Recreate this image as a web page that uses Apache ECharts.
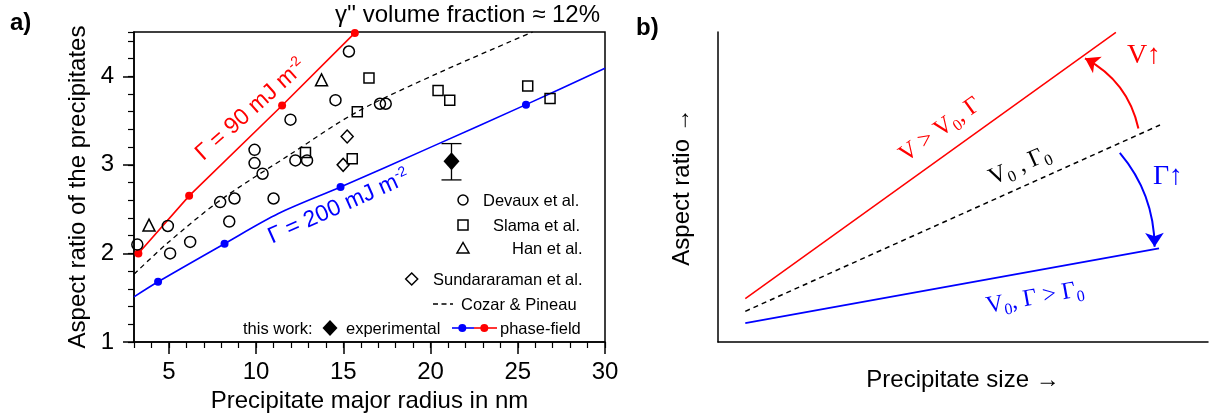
<!DOCTYPE html>
<html>
<head>
<meta charset="utf-8">
<script src="https://cdn.jsdelivr.net/npm/echarts@6/dist/echarts.min.js"></script>
<style>
  html, body { margin: 0; padding: 0; background: #fff; }
  #chart { width: 1210px; height: 418px; }
</style>
</head>
<body>
<div id="chart"></div>
<script>
// panel a: literature data, major radius (nm) vs aspect ratio
const devauxX = [3.19, 4.94, 5.07, 6.22, 7.94, 8.46, 8.76, 9.91, 9.91, 10.37, 11.0, 11.97, 12.25, 12.92, 14.55, 15.32, 17.1, 17.43]
const devauxY = [2.10, 2.31, 2.0, 2.13, 2.58, 2.36, 2.62, 3.17, 3.02, 2.90, 2.62, 3.51, 3.05, 3.05, 3.73, 4.28, 3.69, 3.69]
const slamaX = [12.83, 15.51, 15.8, 16.47, 20.43, 21.1, 25.57, 26.85]
const slamaY = [3.14, 3.07, 3.60, 3.98, 3.84, 3.73, 3.89, 3.75]
const hanX = [3.86, 13.75]
const hanY = [2.32, 3.96]
const sundX = [14.99, 15.22]
const sundY = [3.0, 3.32]
const cozarX = [3, 4.88, 7.94, 11.97, 15.8, 20.6, 25.85]
const cozarY = [1.765, 2.11, 2.6, 3.12, 3.6, 4.05, 4.5]
// this work
const expX = [21.2]
const expY = [3.04]
const expLow = [2.83]
const expHigh = [3.24]
const pf90X = [3.25, 6.16, 11.49, 15.66]
const pf90Y = [2.0, 2.65, 3.67, 4.49]
const pf200X = [4.38, 8.19, 14.84, 25.47]
const pf200Y = [1.68, 2.11, 2.75, 3.68]
const pf200CurveX = [3, 4.38, 8.19, 11.28, 14.84, 20.02, 25.47, 30]
const pf200CurveY = [1.51, 1.68, 2.11, 2.45, 2.75, 3.20, 3.68, 4.09]
const xMajorTicks = [5, 10, 15, 20, 25, 30]
const yMajorTicks = [1, 2, 3, 4]

// panel b: schematic, both axes 0..100 arbitrary units
const bRedLine = [[5.57, 14.0], [81.2, 99.9]]
const bRefLine = [[5.57, 9.9], [90.2, 70.0]]
const bBlueLine = [[5.57, 6.1], [90.0, 30.2]]
const bRedArrow = [[85.8, 68.9], [74.9, 91.5]]
const bBlueArrow = [[82.0, 61.0], [89.1, 30.7]]

const SANS = '"Liberation Sans", Arial, sans-serif'
const SERIF = '"Liberation Serif", "Times New Roman", serif'
const RED = '#ff0000'
const BLUE = '#0000ff'

const zip = (xs, ys) => xs.map((x, i) => [x, ys[i]])

const chart = echarts.init(document.getElementById('chart'))

const openSymbol = (name, symbol, size, xs, ys) => ({
  name: name,
  type: 'scatter',
  xAxisIndex: 0,
  yAxisIndex: 0,
  symbol: symbol,
  symbolSize: size,
  itemStyle: { color: 'rgba(0,0,0,0)', borderColor: '#000', borderWidth: 1.5, opacity: 1 },
  data: zip(xs, ys),
  z: 5
})

const majorAxisBase = {
  type: 'value',
  axisLine: { lineStyle: { color: '#000', width: 1.5 } },
  splitLine: { show: false },
  nameLocation: 'middle',
  nameTextStyle: { fontSize: 24, color: '#000', fontFamily: SANS }
}
const minorAxisBase = {
  type: 'value',
  axisLine: { show: false },
  axisLabel: { show: false },
  splitLine: { show: false },
  axisTick: { length: 6, lineStyle: { color: '#000', width: 1.2 } }
}

const txt = (text, x, y, size, color, extra) => Object.assign({
  type: 'text',
  x: x,
  y: y,
  style: Object.assign({
    text: text,
    fontSize: size,
    fontFamily: SANS,
    fill: color || '#000',
    align: 'left',
    verticalAlign: 'middle'
  }, (extra && extra.style) || {})
}, extra ? { rotation: extra.rotation || 0 } : {})

const subRich = (color) => ({
  m: { fontSize: 24, fontFamily: SERIF, fill: color, lineHeight: 30 },
  s: { fontSize: 16, fontFamily: SERIF, fill: color, lineHeight: 20, verticalAlign: 'bottom' }
})

const option = {
  animation: false,
  backgroundColor: '#fff',
  textStyle: { fontFamily: SANS },
  grid: [
    { left: 134, top: 32, width: 471, height: 310, show: true, borderColor: '#000', borderWidth: 1.5, backgroundColor: 'transparent' },
    { left: 718, top: 32, width: 490, height: 310 }
  ],
  xAxis: [
    Object.assign({}, majorAxisBase, {
      gridIndex: 0, min: 3, max: 30, position: 'bottom',
      axisTick: { customValues: xMajorTicks, length: 12, lineStyle: { color: '#000', width: 1.5 } },
      axisLabel: { customValues: xMajorTicks, fontSize: 24, color: '#000', margin: 18 },
      name: 'Precipitate major radius in nm', nameGap: 43
    }),
    Object.assign({}, minorAxisBase, { gridIndex: 0, min: 3, max: 30, interval: 1, position: 'bottom' }),
    {
      type: 'value', gridIndex: 1, min: 0, max: 100,
      axisLine: { lineStyle: { color: '#000', width: 1.5 } },
      axisTick: { show: false }, axisLabel: { show: false }, splitLine: { show: false },
      name: 'Precipitate size →', nameLocation: 'middle', nameGap: 26,
      nameTextStyle: { fontSize: 24, color: '#000', fontFamily: SANS }
    }
  ],
  yAxis: [
    Object.assign({}, majorAxisBase, {
      gridIndex: 0, min: 1, max: 4.5, position: 'left',
      axisTick: { customValues: yMajorTicks, length: 11, lineStyle: { color: '#000', width: 1.5 } },
      axisLabel: { customValues: yMajorTicks, fontSize: 24, color: '#000', margin: 20 },
      name: 'Aspect ratio of the precipitates', nameGap: 44
    }),
    Object.assign({}, minorAxisBase, { gridIndex: 0, min: 1, max: 4.5, interval: 0.2, position: 'left' }),
    {
      type: 'value', gridIndex: 1, min: 0, max: 100,
      axisLine: { lineStyle: { color: '#000', width: 1.5 } },
      axisTick: { show: false }, axisLabel: { show: false }, splitLine: { show: false },
      name: 'Aspect ratio →', nameLocation: 'middle', nameGap: 24,
      nameTextStyle: { fontSize: 24, color: '#000', fontFamily: SANS }
    }
  ],
  series: [
    {
      name: 'Cozar & Pineau', type: 'line', xAxisIndex: 0, yAxisIndex: 0,
      data: zip(cozarX, cozarY), smooth: 0.3, symbol: 'none', clip: true,
      lineStyle: { color: '#000', width: 1.3, type: [5, 4] }
    },
    {
      name: 'pf200 curve', type: 'line', xAxisIndex: 0, yAxisIndex: 0,
      data: zip(pf200CurveX, pf200CurveY), smooth: 0.3, symbol: 'none',
      lineStyle: { color: BLUE, width: 1.6 }
    },
    {
      name: 'pf200', type: 'scatter', xAxisIndex: 0, yAxisIndex: 0,
      data: zip(pf200X, pf200Y), symbol: 'circle', symbolSize: 8,
      itemStyle: { color: BLUE, opacity: 1 }
    },
    {
      name: 'pf90', type: 'line', xAxisIndex: 0, yAxisIndex: 0,
      data: zip(pf90X, pf90Y), symbol: 'circle', symbolSize: 8, showSymbol: true,
      lineStyle: { color: RED, width: 1.6 }, itemStyle: { color: RED, opacity: 1 }
    },
    openSymbol('Devaux et al.', 'circle', 11, devauxX, devauxY),
    openSymbol('Slama et al.', 'rect', 10, slamaX, slamaY),
    openSymbol('Han et al.', 'triangle', 12, hanX, hanY),
    openSymbol('Sundararaman et al.', 'diamond', [12, 13], sundX, sundY),
    {
      name: 'error', type: 'custom', xAxisIndex: 0, yAxisIndex: 0,
      data: expX.map((x, i) => [x, expLow[i], expHigh[i]]),
      encode: { x: 0, y: [1, 2] },
      renderItem: (params, api) => {
        const lo = api.coord([api.value(0), api.value(1)])
        const hi = api.coord([api.value(0), api.value(2)])
        const w = 10
        const st = { stroke: '#000', lineWidth: 1.3 }
        return {
          type: 'group',
          children: [
            { type: 'line', shape: { x1: lo[0], y1: lo[1], x2: hi[0], y2: hi[1] }, style: st },
            { type: 'line', shape: { x1: lo[0] - w, y1: lo[1], x2: lo[0] + w, y2: lo[1] }, style: st },
            { type: 'line', shape: { x1: hi[0] - w, y1: hi[1], x2: hi[0] + w, y2: hi[1] }, style: st }
          ]
        }
      }
    },
    {
      name: 'experimental', type: 'scatter', xAxisIndex: 0, yAxisIndex: 0,
      data: zip(expX, expY), symbol: 'diamond', symbolSize: [16, 18],
      itemStyle: { color: '#000', opacity: 1 }, z: 6
    },
    // panel b
    {
      type: 'line', xAxisIndex: 2, yAxisIndex: 2, data: bRedLine, symbol: 'none',
      lineStyle: { color: RED, width: 1.5 }
    },
    {
      type: 'line', xAxisIndex: 2, yAxisIndex: 2, data: bRefLine, symbol: 'none',
      lineStyle: { color: '#000', width: 1.5, type: [5, 4] }
    },
    {
      type: 'line', xAxisIndex: 2, yAxisIndex: 2, data: bBlueLine, symbol: 'none',
      lineStyle: { color: BLUE, width: 1.8 }
    },
    {
      type: 'lines', coordinateSystem: 'cartesian2d', xAxisIndex: 2, yAxisIndex: 2,
      symbol: ['none', 'arrow'], symbolSize: 14,
      lineStyle: { color: RED, width: 2, curveness: -0.23, opacity: 1 },
      data: [{ coords: bRedArrow }]
    },
    {
      type: 'lines', coordinateSystem: 'cartesian2d', xAxisIndex: 2, yAxisIndex: 2,
      symbol: ['none', 'arrow'], symbolSize: 14,
      lineStyle: { color: BLUE, width: 2, curveness: 0.18, opacity: 1 },
      data: [{ coords: bBlueArrow }]
    }
  ],
  graphic: [
    txt('a)', 10, 23, 24, '#000', { style: { fontWeight: 'bold' } }),
    txt('b)', 636, 28, 24, '#000', { style: { fontWeight: 'bold' } }),
    txt("γ'' volume fraction ≈ 12%", 600, 15, 24, '#000', { style: { align: 'right' } }),
    {
      type: 'text', x: 251, y: 110, rotation: 0.73,
      style: {
        text: '{a|Γ = 90 mJ m}{s|-2}', align: 'center', verticalAlign: 'middle',
        rich: {
          a: { fontSize: 23, fontFamily: SANS, fill: RED, lineHeight: 26 },
          s: { fontSize: 14, fontFamily: SANS, fill: RED, lineHeight: 26, verticalAlign: 'top' }
        }
      }
    },
    {
      type: 'text', x: 339, y: 207, rotation: 0.42,
      style: {
        text: '{a|Γ = 200 mJ m}{s|-2}', align: 'center', verticalAlign: 'middle',
        rich: {
          a: { fontSize: 23, fontFamily: SANS, fill: BLUE, lineHeight: 26 },
          s: { fontSize: 14, fontFamily: SANS, fill: BLUE, lineHeight: 26, verticalAlign: 'top' }
        }
      }
    },
    // legend of panel a
    { type: 'circle', shape: { cx: 463, cy: 200, r: 5 }, style: { fill: 'none', stroke: '#000', lineWidth: 1.5 } },
    txt('Devaux et al.', 483, 201, 16.5),
    { type: 'rect', shape: { x: 458, y: 220, width: 10, height: 10 }, style: { fill: 'none', stroke: '#000', lineWidth: 1.5 } },
    txt('Slama et al.', 493, 226, 16.5),
    { type: 'polygon', shape: { points: [[463, 242.5], [457, 253], [469, 253]] }, style: { fill: 'none', stroke: '#000', lineWidth: 1.5 } },
    txt('Han et al.', 512, 249, 16.5),
    { type: 'polygon', shape: { points: [[411.7, 273], [417.7, 279], [411.7, 285], [405.7, 279]] }, style: { fill: 'none', stroke: '#000', lineWidth: 1.5 } },
    txt('Sundararaman et al.', 433, 280, 16.5),
    { type: 'line', shape: { x1: 433, y1: 304, x2: 453, y2: 304 }, style: { stroke: '#000', lineWidth: 1.3, lineDash: [5, 3.5] } },
    txt('Cozar & Pineau', 461, 305, 16.5),
    txt('this work:', 243, 329, 16.5),
    { type: 'polygon', shape: { points: [[330, 320], [337.5, 328], [330, 336], [322.5, 328]] }, style: { fill: '#000' } },
    txt('experimental', 346, 329, 16.5),
    { type: 'line', shape: { x1: 452, y1: 328, x2: 474, y2: 328 }, style: { stroke: BLUE, lineWidth: 1.6 } },
    { type: 'circle', shape: { cx: 462.3, cy: 328, r: 4 }, style: { fill: BLUE } },
    { type: 'line', shape: { x1: 474, y1: 328, x2: 497, y2: 328 }, style: { stroke: RED, lineWidth: 1.6 } },
    { type: 'circle', shape: { cx: 484.3, cy: 328, r: 4 }, style: { fill: RED } },
    txt('phase-field', 500, 329, 16.5),
    // panel b annotations
    txt('V↑', 1144, 56, 28, RED, { style: { align: 'center', fontFamily: SERIF } }),
    txt('Γ↑', 1168, 177, 28, BLUE, { style: { align: 'center', fontFamily: SERIF } }),
    {
      type: 'text', x: 940, y: 130, rotation: 0.62,
      style: { text: '{m|V > V}{s|0}{m|, Γ}', align: 'center', verticalAlign: 'middle', rich: subRich(RED) }
    },
    {
      type: 'text', x: 1020, y: 166, rotation: 0.42,
      style: { text: '{m|V}{s|0}{m| , Γ}{s|0}', align: 'center', verticalAlign: 'middle', rich: subRich('#000') }
    },
    {
      type: 'text', x: 1035, y: 298, rotation: 0.18,
      style: { text: '{m|V}{s|0}{m|, Γ > Γ}{s|0}', align: 'center', verticalAlign: 'middle', rich: subRich(BLUE) }
    }
  ]
}

chart.setOption(option)
</script>
</body>
</html>
